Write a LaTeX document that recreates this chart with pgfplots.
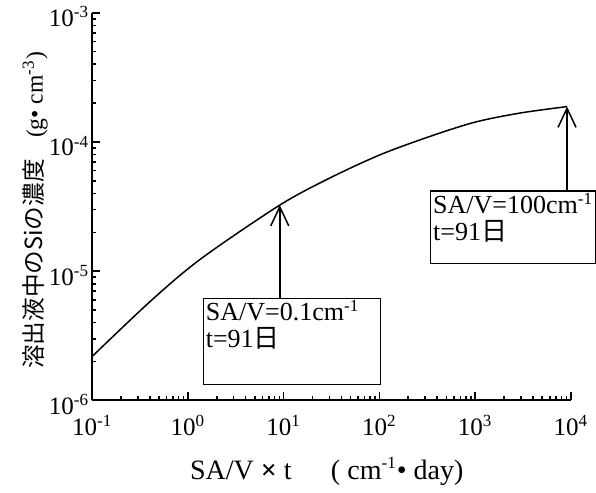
\documentclass[border=0pt]{standalone}
\usepackage{fontspec}
\setmainfont{Liberation Serif}
\newfontfamily\cjk{Noto Sans CJK JP}
\usepackage{pgfplots}
\pgfplotsset{compat=1.18}
\usetikzlibrary{arrows.meta}
\newcommand\sups[1]{\textsuperscript{\fontsize{8.5}{8.5}\selectfont #1}}

\begin{document}
\begin{tikzpicture}
\begin{axis}[
    scale only axis,
    width=239pt,
    height=193.5pt,
    xmode=log,
    ymode=log,
    xmin=0.1, xmax=1e4,
    ymin=1e-6, ymax=1e-3,
    axis x line*=bottom,
    axis y line*=left,
    axis line style={black, line width=1pt},
    tick style={black, line width=0.8pt},
    major tick length=4pt,
    minor tick length=2pt,
    tick align=inside,
    xtick={0.1,1,10,100,1000,10000},
    xticklabels={10\sups{-1},10\sups{0},10\sups{1},10\sups{2},10\sups{3},10\sups{4}},
    ytick={1e-6,1e-5,1e-4,1e-3},
    yticklabels={10\sups{-6},10\sups{-5},10\sups{-4},10\sups{-3}},
    tick label style={font=\fontsize{12.5}{14}\selectfont},
    x tick label style={yshift=-4pt},
    y tick label style={xshift=2pt, yshift=-2pt},
    clip=false,
    xlabel={SA/V {\bfseries ×} t\hspace{1.4em}( cm\sups{-1}• day)},
    xlabel style={font=\fontsize{14}{16}\selectfont, at={(axis description cs:0.49,-0.183)}, anchor=center},
    ylabel={{\cjk 溶出液中のSiの濃度}\hspace{0.9em}(g• cm\sups{-3})},
    ylabel style={font=\fontsize{11.8}{14}\selectfont, at={(axis description cs:-0.119,0.49)}, anchor=center, rotate=0},
]
\addplot[black, line width=0.75pt, smooth, mark=none] coordinates {
(0.1,2.19e-6)
(0.405,5.85e-6)
(1.35,1.24e-5)
(9.1,3.25e-5)
(30.9,5.3e-5)
(103,8.0e-5)
(343,1.11e-4)
(1014,1.43e-4)
(3000,1.68e-4)
(9100,1.88e-4)
};

% annotation boxes and arrows
\draw[line width=0.6pt, fill=white] (axis cs:1.45,1.33e-6) rectangle (axis cs:103,6.18e-6);
\draw[line width=0.75pt, -{Straight Barb[length=9.5pt,width=9pt,line width=0.75pt]}] (axis cs:9.1,6.18e-6) -- (axis cs:9.1,3.25e-5);
\node[anchor=north west, inner sep=1pt, align=left, font=\fontsize{13}{13.5}\selectfont] at (axis cs:1.45,6.18e-6) {SA/V=0.1cm\sups{-1}\\t=91{\cjk 日}};

\draw[line width=0.6pt, fill=white] (axis cs:343,1.15e-5) rectangle (axis cs:18000,4.17e-5);
\draw[line width=0.75pt, -{Straight Barb[length=9.5pt,width=9pt,line width=0.75pt]}] (axis cs:9100,4.17e-5) -- (axis cs:9100,1.88e-4);
\node[anchor=north west, inner sep=1pt, align=left, font=\fontsize{13}{13.5}\selectfont] at (axis cs:343,4.17e-5) {SA/V=100cm\sups{-1}\\t=91{\cjk 日}};

% page margins as in the reference
\path (rel axis cs:-0.1925,-0.2378) (rel axis cs:1.05,1.031);
\end{axis}
\end{tikzpicture}
\end{document}
